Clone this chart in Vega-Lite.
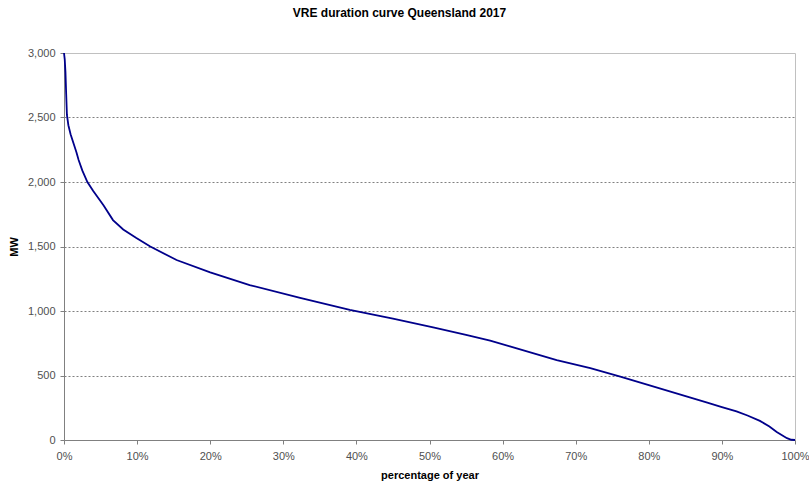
{
  "$schema": "https://vega.github.io/schema/vega-lite/v6.json",
  "width": 731,
  "height": 387,
  "autosize": "none",
  "padding": {"left": 64, "top": 53, "right": 14, "bottom": 41},
  "background": "white",
  "title": {
    "text": "VRE duration curve Queensland 2017",
    "font": "Liberation Sans",
    "fontSize": 12,
    "fontWeight": "bold",
    "color": "#000000",
    "anchor": "middle",
    "dx": -30,
    "offset": 27
  },
  "config": {
    "view": {"stroke": "#c0c0c0", "strokeWidth": 1},
    "axis": {
      "labelFont": "Liberation Sans",
      "titleFont": "Liberation Sans",
      "labelFontSize": 11,
      "labelColor": "#505050",
      "titleFontSize": 11,
      "titleFontWeight": "bold",
      "titleColor": "#000000",
      "domainColor": "#808080",
      "tickColor": "#808080",
      "tickSize": 4,
      "labelFlush": false
    }
  },
  "data": {
    "values": [
      {"pct": 0.0, "mw": 3000},
      {"pct": 0.1, "mw": 2950},
      {"pct": 0.2, "mw": 2850},
      {"pct": 0.3, "mw": 2680},
      {"pct": 0.4, "mw": 2520},
      {"pct": 0.6, "mw": 2440},
      {"pct": 0.9, "mw": 2370},
      {"pct": 1.3, "mw": 2300},
      {"pct": 1.7, "mw": 2230},
      {"pct": 2.0, "mw": 2170},
      {"pct": 2.5, "mw": 2090},
      {"pct": 3.2, "mw": 2000},
      {"pct": 4.0, "mw": 1930},
      {"pct": 5.4, "mw": 1820},
      {"pct": 6.7, "mw": 1705},
      {"pct": 8.1, "mw": 1632},
      {"pct": 9.9, "mw": 1566},
      {"pct": 11.8, "mw": 1500},
      {"pct": 15.4, "mw": 1395},
      {"pct": 20.0, "mw": 1299},
      {"pct": 25.4, "mw": 1201},
      {"pct": 32.3, "mw": 1101},
      {"pct": 39.1, "mw": 1008},
      {"pct": 45.0, "mw": 940},
      {"pct": 50.5, "mw": 873},
      {"pct": 55.0, "mw": 815},
      {"pct": 58.3, "mw": 770},
      {"pct": 61.0, "mw": 725},
      {"pct": 67.4, "mw": 620},
      {"pct": 72.0, "mw": 558},
      {"pct": 76.1, "mw": 491},
      {"pct": 80.0, "mw": 425},
      {"pct": 85.6, "mw": 330},
      {"pct": 88.0, "mw": 290},
      {"pct": 90.0, "mw": 255},
      {"pct": 92.0, "mw": 222},
      {"pct": 93.5, "mw": 190},
      {"pct": 95.2, "mw": 148},
      {"pct": 96.5, "mw": 105},
      {"pct": 97.5, "mw": 62},
      {"pct": 98.9, "mw": 14},
      {"pct": 99.5, "mw": 2},
      {"pct": 100.0, "mw": 0}
    ]
  },
  "mark": {"type": "line", "color": "#00008b", "strokeWidth": 1.8},
  "encoding": {
    "x": {
      "field": "pct",
      "type": "quantitative",
      "scale": {"domain": [0, 100], "nice": false},
      "axis": {
        "title": "percentage of year",
        "values": [0, 10, 20, 30, 40, 50, 60, 70, 80, 90, 100],
        "labelExpr": "datum.value + '%'",
        "grid": false,
        "labelPadding": 6,
        "titlePadding": 8
      }
    },
    "y": {
      "field": "mw",
      "type": "quantitative",
      "scale": {"domain": [0, 3000], "nice": false},
      "axis": {
        "title": "MW",
        "values": [0, 500, 1000, 1500, 2000, 2500, 3000],
        "format": ",.0f",
        "labelPadding": 5,
        "titlePadding": 8,
        "grid": true,
        "gridColor": "#808080",
        "gridDash": [2, 2],
        "gridOpacity": {"condition": {"test": "datum.value == 0 || datum.value == 3000", "value": 0}, "value": 1}
      }
    }
  }
}
